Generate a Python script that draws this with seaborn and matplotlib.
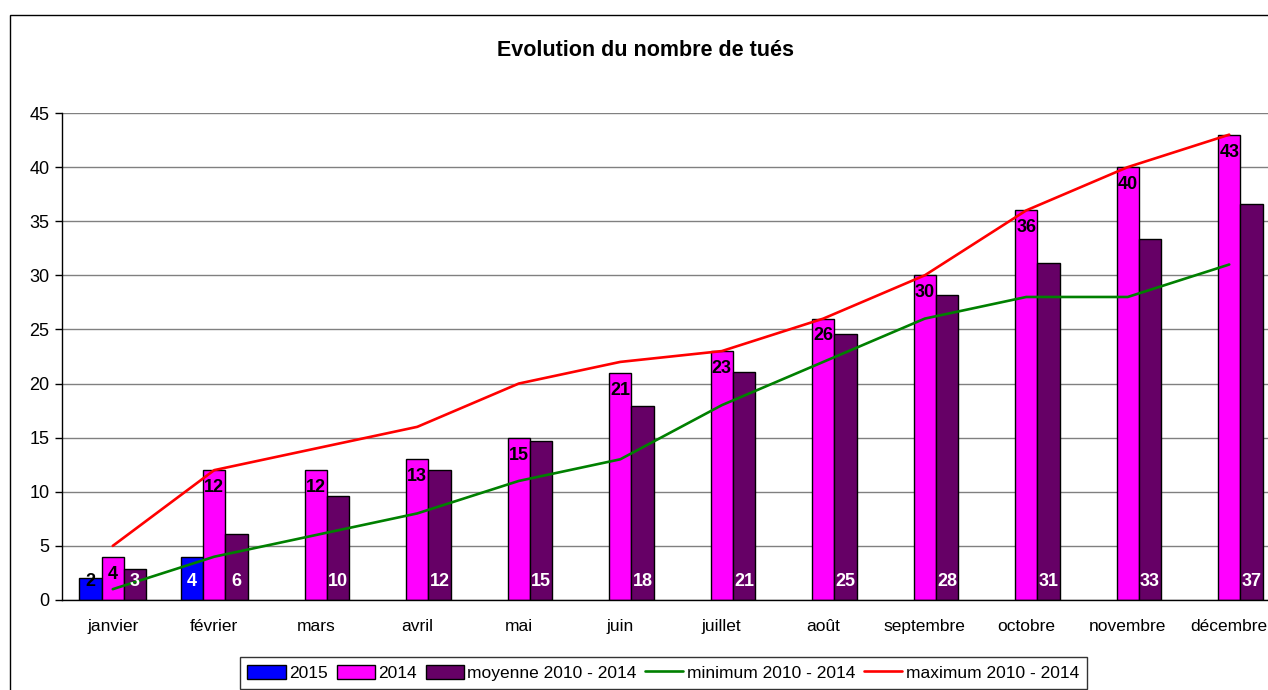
import numpy as np
import pandas as pd
import matplotlib
matplotlib.use("Agg")
import matplotlib.pyplot as plt
from matplotlib.patches import Rectangle
import seaborn as sns

# data
mois = ["janvier", "février", "mars", "avril", "mai", "juin", "juillet",
        "août", "septembre", "octobre", "novembre", "décembre"]
tues_2015 = [2, 4, np.nan, np.nan, np.nan, np.nan, np.nan, np.nan, np.nan, np.nan, np.nan, np.nan]
tues_2014 = [4, 12, 12, 13, 15, 21, 23, 26, 30, 36, 40, 43]
moyenne = [2.9, 6.1, 9.6, 12.0, 14.7, 17.9, 21.1, 24.6, 28.2, 31.1, 33.4, 36.6]
minimum = [1, 4, 6, 8, 11, 13, 18, 22, 26, 28, 28, 31]
maximum = [5, 12, 14, 16, 20, 22, 23, 26, 30, 36, 40, 43]
series = ["2015", "2014", "moyenne 2010 - 2014"]
couleurs = ["#0000FF", "#FF00FF", "#660066"]
couleurs_2015_txt = ["black", "white"]

sns.set_style("white")
plt.rcParams["font.family"] = ["Liberation Sans", "DejaVu Sans"]
plt.rcParams["text.color"] = "black"
plt.rcParams["xtick.color"] = "black"
plt.rcParams["ytick.color"] = "black"

df = pd.DataFrame({
    "mois": mois * 3,
    "serie": sum([[s] * 12 for s in series], []),
    "valeur": tues_2015 + tues_2014 + moyenne,
})

fig = plt.figure(figsize=(12.68, 6.9), dpi=100)
ax = fig.add_axes([62 / 1268, 90 / 690, 1218 / 1268, 487 / 690])

sns.barplot(data=df, x="mois", y="valeur", hue="serie", hue_order=series,
            order=mois, palette=couleurs, width=0.66, edgecolor="black",
            linewidth=1, saturation=1, ax=ax, errorbar=None)

x = np.arange(len(mois))
sns.lineplot(x=x, y=minimum, color="#008000", linewidth=1.9, ax=ax,
             label="minimum 2010 - 2014")
sns.lineplot(x=x, y=maximum, color="#FF0000", linewidth=1.9, ax=ax,
             label="maximum 2010 - 2014")

# data labels
c2015, c2014, cmoy = ax.containers[:3]
for p, v, col in zip(c2015.patches, [v for v in tues_2015 if not np.isnan(v)], couleurs_2015_txt):
    ax.annotate(f"{v:.0f}", (p.get_x() + p.get_width() / 2, 0), xytext=(0, 13.5),
                textcoords="offset points", ha="center", va="center",
                fontsize=13, fontweight="bold", color=col)
for p, v in zip(c2014.patches, tues_2014):
    ax.annotate(f"{v:.0f}", (p.get_x() + p.get_width() / 2, v), xytext=(0, -12.5),
                textcoords="offset points", ha="center", va="center",
                fontsize=13, fontweight="bold", color="black")
for p, v in zip(cmoy.patches, moyenne):
    ax.annotate(f"{int(v + 0.5)}", (p.get_x() + p.get_width() / 2, 0), xytext=(0, 13.5),
                textcoords="offset points", ha="center", va="center",
                fontsize=13, fontweight="bold", color="white")

ax.set_xlim(-0.5, 11.5)
ax.set_ylim(0, 45)
ax.set_yticks(range(0, 46, 5))
ax.set_xlabel("")
ax.set_ylabel("")
ax.yaxis.grid(True, color="#808080", linewidth=1)
ax.set_axisbelow(True)
ax.set_xticks(x)
ax.set_xticklabels(mois)
ax.set_xticks(np.arange(-0.5, 12, 1), minor=True)
ax.tick_params(axis="x", which="major", length=0, pad=14, labelsize=12.5)
ax.tick_params(axis="x", which="minor", length=5, width=1, color="black", direction="out")
ax.tick_params(axis="y", length=5, width=1, color="black", direction="out", labelsize=13, pad=4)
ax.tick_params(left=True, bottom=True)
for s in ["top", "right"]:
    ax.spines[s].set_visible(False)
for s in ["left", "bottom"]:
    ax.spines[s].set_color("black")
    ax.spines[s].set_linewidth(1)

handles, labels = ax.get_legend_handles_labels()
ax.get_legend().remove()
leg = fig.legend(handles, labels, loc="upper center", bbox_to_anchor=(0.523, 0.048),
                 ncol=5, fontsize=12.5, frameon=True, fancybox=False,
                 handlelength=2.2, handleheight=0.9, handletextpad=0.2,
                 columnspacing=0.5, borderpad=0.45, borderaxespad=0)
leg.get_frame().set_edgecolor("black")
leg.get_frame().set_linewidth(1)

fig.text(0.509, 0.927, "Evolution du nombre de tués", ha="center", va="center",
         fontsize=15.5, fontweight="bold")

# outer chart frame
fig.patches.append(Rectangle((10 / 1268, -0.1), 1.2, 0.1 + 675 / 690,
                             transform=fig.transFigure, fill=False,
                             edgecolor="black", linewidth=1))

fig.savefig("out.png", dpi=100)
